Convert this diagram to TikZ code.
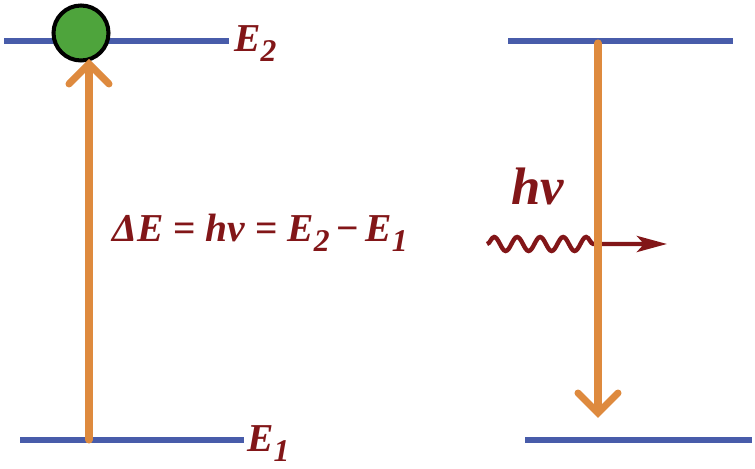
\documentclass[tikz,border=0pt]{standalone}
\usepackage{fontspec}
\setmainfont{Liberation Serif}[BoldItalicFont={Liberation Serif Bold Italic}]
\usepackage{graphicx}
\usetikzlibrary{arrows.meta, decorations.pathmorphing}
\definecolor{levelblue}{RGB}{72,92,170}
\definecolor{transorange}{RGB}{222,138,62}
\definecolor{darkred}{RGB}{130,22,24}
\definecolor{electrongreen}{RGB}{78,164,60}
\newcommand{\lowsub}[1]{\raisebox{-0.25em}{\scalebox{0.8}{#1}}}

\begin{document}
\begin{tikzpicture}[x=0.02cm, y=-0.02cm,
    level/.style={levelblue, line width=2.9pt},
    trans/.style={transorange, line width=4pt, line cap=round,
      -{Straight Barb[length=0.4cm, width=0.8cm, line cap=round]}},
    electron/.style={circle, draw=black, fill=electrongreen, line width=2.3pt,
      minimum size=1.1cm, inner sep=0pt},
    lbl/.style={darkred, font=\fontsize{22.5}{24}\selectfont\bfseries\itshape, inner sep=0pt},
    photon/.style={darkred, line width=2.5pt,
      decorate, decoration={snake, amplitude=0.14cm, segment length=0.46cm, post length=1.3cm},
      -{Stealth[length=0.6cm, width=0.32cm, inset=0.14cm]}}]
  \useasboundingbox (0,0) rectangle (755,469);
  % Absorption: levels
  \coordinate (atopl) at (4,41);
  \coordinate (atopr) at (229,41);
  \coordinate (abotl) at (20,440);
  \coordinate (abotr) at (244,440);
  \draw[level] (atopl) -- (atopr);
  \draw[level] (abotl) -- (abotr);
  \node[lbl, anchor=base west] (e2) at (234,52) {E\lowsub{2}};
  \node[lbl, anchor=base west] (e1) at (247,452) {E\lowsub{1}};
  % Electron and upward jump
  \node[electron] (el) at (81,33) {};
  \coordinate (upfoot) at (89,440);
  \draw[trans] (upfoot) -- ([yshift=2pt]upfoot |- el.south);
  \node[lbl, anchor=base west] (eq) at (112,242)
    {ΔE {\upshape =} hv {\upshape =} E\lowsub{2}\,{\upshape −}\,E\lowsub{1}};
  % Emission: levels
  \coordinate (etopl) at (508,41);
  \coordinate (etopr) at (733,41);
  \coordinate (ebotl) at (525,440);
  \coordinate (ebotr) at (752,440);
  \draw[level] (etopl) -- (etopr);
  \draw[level] (ebotl) -- (ebotr);
  % Photon
  \node[lbl, font=\fontsize{30}{32}\selectfont\bfseries\itshape, anchor=base west] (hv) at (511,205) {hv};
  \coordinate (wvs) at (487,244);
  \coordinate (wve) at (667,244);
  \draw[photon] (wvs) -- (wve);
  % Downward jump
  \coordinate (dntop) at (598,43);
  \coordinate (dntip) at (598,418);
  \draw[trans] (dntop) -- (dntip);
\end{tikzpicture}
\end{document}
